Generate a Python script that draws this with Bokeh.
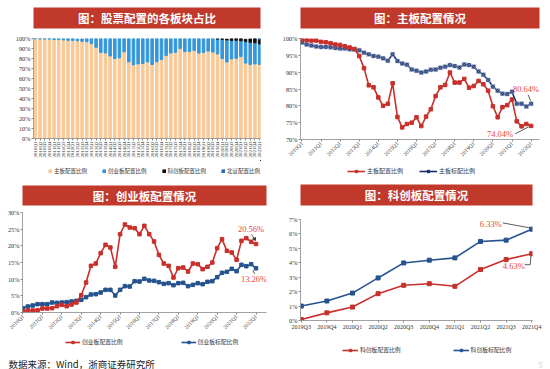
import math
from bokeh.plotting import figure
from bokeh.models import FixedTicker, Legend, LegendItem, Label, Range1d, Arrow, VeeHead
from bokeh.layouts import column, row
from bokeh.embed import file_html
from bokeh.resources import INLINE

# ---------------- data ----------------
quarters = [f"{y}Q{q}" for y in range(2010, 2023) for q in (1, 2, 3, 4)][:49]
star_quarters = ["2019Q3", "2019Q4", "2020Q1", "2020Q2", "2020Q3",
                 "2020Q4", "2021Q1", "2021Q2", "2021Q3", "2021Q4"]

main_alloc = [99.7, 99.5, 99.4, 99.4, 99.0, 98.9, 98.6, 98.2, 98.1, 97.7, 97.3, 96.9,
              94.8, 91.2, 86.1, 85.5, 82.5, 80.0, 80.6, 86.7, 76.7, 73.6, 74.6, 75.0,
              76.6, 74.0, 76.8, 79.0, 82.9, 85.5, 86.2, 89.9, 86.9, 86.9, 88.0, 85.4,
              85.9, 87.4, 86.4, 84.5, 79.9, 76.6, 79.6, 80.2, 81.9, 75.4, 73.9, 74.6, 74.04]
main_bench = [98.8, 98.2, 97.9, 97.6, 97.5, 97.5, 97.4, 97.2, 97.0, 97.0, 96.8, 96.7,
              96.5, 95.8, 95.3, 94.8, 94.6, 94.1, 93.4, 95.3, 93.3, 92.6, 92.2, 90.8,
              90.4, 89.9, 90.2, 90.7, 90.8, 91.3, 91.6, 92.1, 91.8, 91.4, 92.3, 92.1,
              91.6, 90.2, 89.2, 87.7, 85.7, 84.5, 83.6, 83.5, 84.2, 80.6, 80.6, 79.8, 80.64]
gem_alloc = [0.4, 0.6, 0.6, 0.7, 1.2, 1.2, 1.3, 1.9, 2.3, 1.9, 2.4, 3.0,
             5.2, 9.0, 14.0, 14.7, 17.8, 20.3, 19.5, 13.7, 23.5, 26.4, 25.5, 25.3,
             23.5, 26.0, 23.5, 21.3, 17.3, 14.7, 14.0, 10.5, 13.3, 13.5, 12.3, 14.7,
             14.5, 13.0, 13.7, 15.0, 19.3, 22.0, 18.5, 18.0, 15.8, 21.5, 22.3, 21.2, 20.56]
gem_bench = [1.3, 1.8, 2.1, 2.5, 2.5, 2.5, 3.0, 2.9, 3.0, 3.1, 3.3, 3.5,
             3.8, 4.6, 5.4, 5.5, 6.0, 6.8, 6.8, 5.1, 6.8, 7.9, 7.8, 9.4,
             9.3, 10.1, 9.6, 9.5, 9.1, 8.6, 8.8, 8.2, 8.8, 8.9, 7.9, 8.3,
             8.8, 8.5, 9.2, 9.4, 10.6, 11.9, 12.2, 13.1, 12.4, 14.3, 13.9, 14.5, 13.26]
star_alloc = [0.07, 0.53, 0.93, 1.86, 2.44, 2.55, 2.37, 3.53, 4.22, 4.63]
star_bench = [1.00, 1.35, 1.90, 2.95, 3.99, 4.18, 4.34, 5.48, 5.57, 6.33]
bse_alloc = [0.77]

ticks_bar = list(range(0, 101, 10))
ticks_main = list(range(70, 101, 5))
ticks_gem = list(range(0, 31, 5))
ticks_star = list(range(0, 8))

titles = ["图：股票配置的各板块占比", "图：主板配置情况", "图：创业板配置情况", "图：科创板配置情况"]
bar_names = ["主板配置比例", "创业板配置比例", "科创板配置比例", "北证配置比例"]
main_names = ["主板配置比例", "主板标配比例"]
gem_names = ["创业板配置比例", "创业板标配比例"]
star_names = ["科创板配置比例", "科创板标配比例"]
source_text = "数据来源：Wind，浙商证券研究所"
page_no = "5"

# ---------------- style ----------------
BANNER = "#C0392B"
RED = "#C8302B"
NAVY = "#172C6B"
BLUE = "#25538F"
ANN = "#E8463A"
PEACH = "#FAC995"
SKY = "#3497DB"
BSE = "#2F6DB8"
SERIF = "Liberation Serif"
CJK = "Noto Sans CJK SC"
OFF = -100000  # legend panels look far away from the data, so only their keys show


def bare(w, h, left=0, right=0, x0=0, y0=0):
    f = figure(width=w, height=h, x_range=Range1d(x0, x0 + w - left - right),
               y_range=Range1d(y0, y0 + h), output_backend="svg", toolbar_location=None,
               x_axis_location=None, y_axis_location=None,
               min_border_left=left, min_border_right=right, min_border_top=0, min_border_bottom=0)
    f.grid.visible = False
    f.outline_line_color = None
    f.border_fill_color = "white"
    f.background_fill_color = "white"
    return f


def banner(text, w, h, left, right, top, bottom):
    b = figure(width=w, height=h, x_range=Range1d(0, 1), y_range=Range1d(0, 1),
               output_backend="svg", toolbar_location=None,
               x_axis_location=None, y_axis_location=None,
               min_border_left=left, min_border_right=right,
               min_border_top=top, min_border_bottom=bottom)
    b.grid.visible = False
    b.outline_line_color = None
    b.background_fill_color = BANNER
    b.border_fill_color = "white"
    b.add_layout(Label(x=0.5, y=0.5, text=text, text_align="center", text_baseline="middle",
                       text_color="white", text_font=CJK, text_font_size="11.5px",
                       text_font_style="bold"))
    return b


def chart(w, h, left, right, top, bottom, xr, yr):
    p = figure(width=w, height=h, x_range=xr, y_range=yr, output_backend="svg",
               toolbar_location=None, min_border_left=left, min_border_right=right,
               min_border_top=top, min_border_bottom=bottom)
    p.outline_line_color = None
    p.grid.visible = False
    p.border_fill_color = "white"
    for ax in p.axis:
        ax.axis_line_color = "#8a8a8a"
        ax.axis_line_width = 0.8
        ax.major_tick_line_color = "#8a8a8a"
        ax.major_tick_in = 0
        ax.major_tick_out = 2
        ax.minor_tick_line_color = None
        ax.major_label_text_font = SERIF
        ax.major_label_text_font_size = "6.3px"
        ax.major_label_text_color = "#333333"
        ax.major_label_standoff = 1
    return p


def pct_yaxis(p, ticks):
    p.yaxis.ticker = FixedTicker(ticks=ticks)
    p.yaxis.major_label_overrides = {t: f"{t}%" for t in ticks}


def add_legend(f, items, loc, fs, spacing, gw, gh):
    f.add_layout(Legend(items=items, orientation="horizontal", location=loc,
                        label_text_font=CJK, label_text_font_size=fs, label_text_color="#333333",
                        glyph_width=gw, glyph_height=gh, label_height=6, label_width=10,
                        label_standoff=2, spacing=spacing, padding=0, margin=0,
                        border_line_color=None, background_fill_alpha=0))


def line_key(f, xs, ys, color, marker, size, name):
    rl = f.line(xs, ys, color=color, line_width=1.6)
    rs = f.scatter(xs, ys, marker=marker, size=size, color=color)
    return LegendItem(label=name, renderers=[rl, rs])


def seg(p, fw, fh, x, y, a, b, head=False):
    xr, yr = p.x_range, p.y_range
    kx = (xr.end - xr.start) / fw
    ky = (yr.end - yr.start) / fh
    p.add_layout(Arrow(end=VeeHead(size=3, line_color="#333333", fill_color="#333333") if head else None,
                       x_start=x + a[0] * kx, y_start=y + a[1] * ky,
                       x_end=x + b[0] * kx, y_end=y + b[1] * ky,
                       line_color="#333333", line_width=0.8))


def ann(p, x, y, text, dx, dy):
    p.add_layout(Label(x=x, y=y, x_offset=dx, y_offset=dy, text=text, text_align="center",
                       text_baseline="middle", text_color=ANN, text_font=SERIF,
                       text_font_size="8.5px"))


idx = list(range(len(quarters)))
last = idx[-1]
sidx = list(range(len(star_quarters)))
slast = sidx[-1]

# stacked values for the bar panel
gem_top = [m + g for m, g in zip(main_alloc, gem_alloc)]
star_idx = idx[-len(star_alloc):]
star_bottom = gem_top[-len(star_alloc):]
star_top = [b + s for b, s in zip(star_bottom, star_alloc)]
bse_idx = idx[-len(bse_alloc):]
bse_bottom = star_top[-len(bse_alloc):]
bse_top = [b + s for b, s in zip(bse_bottom, bse_alloc)]


def bars(f, width):
    return [f.vbar(x=idx, bottom=0, top=main_alloc, width=width, color=PEACH),
            f.vbar(x=idx, bottom=main_alloc, top=gem_top, width=width, color=SKY),
            f.vbar(x=star_idx, bottom=star_bottom, top=star_top, width=width, color="#111111"),
            f.vbar(x=bse_idx, bottom=bse_bottom, top=bse_top, width=width, color=BSE)]


# ---------------- panel 1: stacked bars ----------------
p1 = chart(275, 130, 33, 15, 8, 22, Range1d(-0.4, 48.2), Range1d(0, 100))
pct_yaxis(p1, ticks_bar)
p1.xaxis.ticker = FixedTicker(ticks=idx)
p1.xaxis.major_label_overrides = {i: q for i, q in zip(idx, quarters)}
p1.xaxis.major_label_orientation = math.pi / 2
p1.xaxis.major_label_text_font_size = "5px"
bars(p1, 0.55)
lf1 = bare(275, 20, 33, 15, OFF, OFF)
add_legend(lf1, [LegendItem(label=n, renderers=[r]) for n, r in zip(bar_names, bars(lf1, 0.55))],
           (15, 5), "5.5px", 15, 4, 4)

# ---------------- panel 2: main board ----------------
p2 = chart(274, 132, 25, 10, 8, 22, Range1d(-0.3, 49.76), Range1d(70, 100))
pct_yaxis(p2, ticks_main)
p2.xaxis.ticker = FixedTicker(ticks=idx[::4])
p2.xaxis.major_label_overrides = {i: quarters[i] for i in idx[::4]}
p2.xaxis.major_label_orientation = math.pi / 4
p2.xaxis.major_label_text_font_size = "5.5px"
p2.line(idx, main_bench, color=NAVY, line_width=1.6)
p2.scatter(idx, main_bench, marker="square_x", size=4, fill_color=NAVY,
           line_color="#9fb0cf", line_width=0.5)
p2.line(idx, main_alloc, color=RED, line_width=1.6)
p2.scatter(idx, main_alloc, marker="square", size=3.5, color=RED)
ann(p2, last, main_bench[-1], f"{main_bench[-1]:.2f}%", -5, 15)
seg(p2, 239, 102, last, main_bench[-1], (-3, 9), (-0.5, 3))
ann(p2, last, main_alloc[-1], f"{main_alloc[-1]:.2f}%", -31, -8)
seg(p2, 239, 102, last, main_alloc[-1], (-16, -8), (-2.5, -1))
lf2 = bare(274, 18, 25, 10, OFF, OFF)
add_legend(lf2, [line_key(lf2, idx, main_alloc, RED, "square", 3.5, main_names[0]),
                 line_key(lf2, idx, main_bench, NAVY, "square", 3.5, main_names[1])],
           (47, 5), "6px", 16, 18, 6)

# ---------------- panel 3: ChiNext ----------------
p3 = chart(275, 129, 22, 9, 6, 23, Range1d(-0.1, 50.16), Range1d(0, 30))
pct_yaxis(p3, ticks_gem)
p3.xaxis.ticker = FixedTicker(ticks=idx[::4])
p3.xaxis.major_label_overrides = {i: quarters[i] for i in idx[::4]}
p3.xaxis.major_label_orientation = math.pi / 4
p3.xaxis.major_label_text_font_size = "5.5px"
p3.line(idx, gem_bench, color=BLUE, line_width=1.6)
p3.scatter(idx, gem_bench, marker="square", size=3.5, color=BLUE)
p3.line(idx, gem_alloc, color=RED, line_width=1.6)
p3.scatter(idx, gem_alloc, marker="square", size=3.5, color=RED)
ann(p3, last, gem_alloc[-1], f"{gem_alloc[-1]:.2f}%", -5, 14.5)
seg(p3, 244, 100, last, gem_alloc[-1], (-4.5, 9.5), (-0.5, 3.5), head=True)
ann(p3, last, gem_bench[-1], f"{gem_bench[-1]:.2f}%", -2, -10.5)
seg(p3, 244, 100, last, gem_bench[-1], (-3, -2), (-1.5, -5.5))
lf3 = bare(275, 22, 22, 9, OFF, OFF)
add_legend(lf3, [line_key(lf3, idx, gem_alloc, RED, "square", 3.5, gem_names[0]),
                 line_key(lf3, idx, gem_bench, BLUE, "square", 3.5, gem_names[1])],
           (43, 11), "5.8px", 58, 15, 6)

# ---------------- panel 4: STAR ----------------
p4 = chart(274, 134, 25, 17, 13, 20, Range1d(-0.03, 9.03), Range1d(0, 7))
pct_yaxis(p4, ticks_star)
p4.xaxis.ticker = FixedTicker(ticks=sidx)
p4.xaxis.major_label_overrides = {i: q for i, q in zip(sidx, star_quarters)}
p4.xaxis.major_label_text_font_size = "6px"
p4.line(sidx, star_bench, color=BLUE, line_width=1.6)
p4.scatter(sidx, star_bench, marker="square", size=4, color=BLUE)
p4.line(sidx, star_alloc, color=RED, line_width=1.6)
p4.scatter(sidx, star_alloc, marker="square", size=4, color=RED)
ann(p4, slast, star_bench[-1], f"{star_bench[-1]:.2f}%", -41, 5.5)
seg(p4, 232, 101, slast, star_bench[-1], (-29, 6.3), (-2, 1.3))
ann(p4, slast, star_alloc[-1], f"{star_alloc[-1]:.2f}%", -18, -12)
seg(p4, 232, 101, slast, star_alloc[-1], (-7, -11), (-1.5, -11))
seg(p4, 232, 101, slast, star_alloc[-1], (-1.5, -11), (-0.8, -2))
lf4 = bare(274, 17, 25, 17, OFF, OFF)
add_legend(lf4, [line_key(lf4, sidx, star_alloc, RED, "square", 4, star_names[0]),
                 line_key(lf4, sidx, star_bench, BLUE, "square", 4, star_names[1])],
           (42, 3), "5.8px", 52, 16, 6)

# ---------------- banners & source ----------------
b1 = banner(titles[0], 275, 30, 9, 8, 7, 2)
b2 = banner(titles[1], 274, 30, 9, 7, 7, 2)
b3 = banner(titles[2], 275, 26, 9, 8, 5, 1)
b4 = banner(titles[3], 274, 26, 18, 7, 4, 1)

src = bare(549, 12)
src.add_layout(Label(x=8, y=6, text=source_text, text_baseline="middle", text_color="#222222",
                     text_font=CJK, text_font_size="9.5px"))
src.add_layout(Label(x=540, y=5, text=page_no, text_align="center", text_baseline="middle",
                     text_color="#cccccc", text_font=SERIF, text_font_size="8px"))

layout = column(row(column(b1, p1, lf1), column(b2, p2, lf2)),
                row(column(b3, p3, lf3), column(b4, p4, lf4)),
                src)

open("out.html", "w").write(file_html(layout, INLINE))
